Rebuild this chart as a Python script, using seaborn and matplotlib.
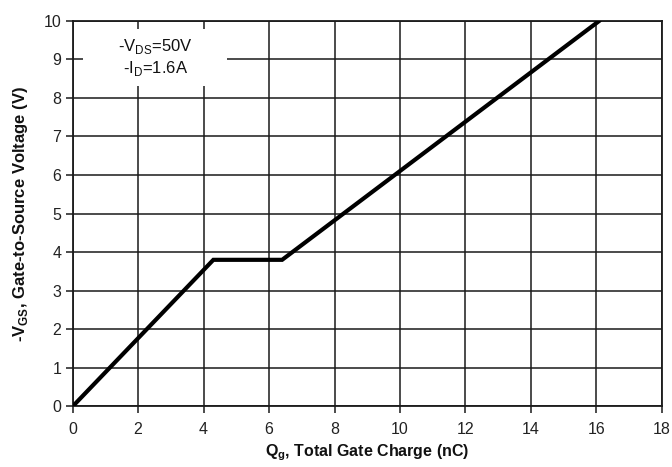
import matplotlib
matplotlib.use("Agg")
import matplotlib.pyplot as plt
from matplotlib.patches import Rectangle
import seaborn as sns
import pandas as pd

# Data
qg_nC = [0.0, 4.3, 6.4, 16.1]
vgs_V = [0.0, 3.8, 3.8, 10.0]
x_ticks = [0, 2, 4, 6, 8, 10, 12, 14, 16, 18]
y_ticks = [0, 1, 2, 3, 4, 5, 6, 7, 8, 9, 10]
annotation = "-V$_{\\mathregular{DS}}$=50V\n-I$_{\\mathregular{D}}$=1.6A"
x_label = "Q$_{\\mathregular{g}}$, Total Gate Charge (nC)"
y_label = "-V$_{\\mathregular{GS}}$, Gate-to-Source Voltage (V)"

df = pd.DataFrame({"Qg": qg_nC, "Vgs": vgs_V})

sns.set_theme(style="white")
plt.rcParams["font.family"] = ["Liberation Sans", "DejaVu Sans"]
plt.rcParams["mathtext.fontset"] = "custom"
plt.rcParams["mathtext.rm"] = "Liberation Sans"
plt.rcParams["mathtext.bf"] = "Liberation Sans:bold"

fig = plt.figure(figsize=(6.72, 4.67), dpi=100)
ax = fig.add_axes([0.108, 0.1296, 0.877, 0.8264])

ax.set_xlim(0, 18)
ax.set_ylim(0, 10)
ax.set_xticks(x_ticks)
ax.set_yticks(y_ticks)
ax.grid(True, color="#1a1a1a", linewidth=1.1)
ax.set_axisbelow(True)

sns.lineplot(data=df, x="Qg", y="Vgs", ax=ax, color="black", linewidth=3.0,
             solid_joinstyle="miter", zorder=5)

for s in ax.spines.values():
    s.set_color("#1a1a1a")
    s.set_linewidth(1.3)

ax.tick_params(axis="both", direction="out", length=5, width=1.1, color="#1a1a1a",
               labelsize=11.5, labelcolor="#222222", pad=3, bottom=True, left=True)
ax.tick_params(axis="x", pad=6)

ax.set_xlabel(x_label, fontsize=11.5, fontweight="bold", color="#111111", labelpad=4)
ax.set_ylabel(y_label, fontsize=12, fontweight="bold", color="#111111", labelpad=10)

# white annotation box covering gridlines
ax.add_patch(Rectangle((0.018, 0.831), 0.244, 0.147, transform=ax.transAxes,
                       facecolor="white", edgecolor="none", zorder=3))
ax.text(0.14, 0.905, annotation, transform=ax.transAxes, ha="center", va="center",
        fontsize=12, color="#111111", linespacing=1.2, zorder=4)

fig.savefig("out.png", dpi=100)
